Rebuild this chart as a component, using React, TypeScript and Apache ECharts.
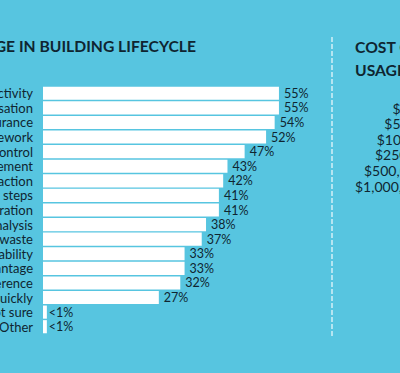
import React, { useEffect, useRef } from "react";
import * as echarts from "echarts";

const categories = [
  "Improved productivity",
  "Better visualisation",
  "Quality assurance",
  "Reduced rework",
  "Cost control",
  "Better data management",
  "Client satisfaction",
  "Fewer process steps",
  "Better collaboration",
  "Improved analysis",
  "Reduced waste",
  "Sustainability",
  "Competitive advantage",
  "Clash interference",
  "Deliver projects quickly",
  "Not sure",
  "Other",
];
const values = [55, 55, 54, 52, 47, 43, 42, 41, 41, 38, 37, 33, 33, 32, 27, 0.9, 0.9];
const valueLabels = ["55%", "55%", "54%", "52%", "47%", "43%", "42%", "41%", "41%", "38%", "37%", "33%", "33%", "32%", "27%", "<1%", "<1%"];
const title = "BIM USAGE IN BUILDING LIFECYCLE";
const sideTitle = ["COST OF BIM", "USAGE"];
const costRanges = [
  "$1 \u2013 $50,000",
  "$50,000 \u2013 $100,000",
  "$100,000 \u2013 $250,000",
  "$250,000 \u2013 $500,000",
  "$500,000 \u2013 $1,000,000",
  "$1,000,000+",
];
const costX = [392.5, 384.3, 376.7, 375, 364, 355];

const BG = "#57c5e0";
const INK = "#0f2531";

export default function App() {
  const ref = useRef<HTMLDivElement>(null);
  useEffect(() => {
    if (!ref.current) return;
    const chart = echarts.init(ref.current, null, { renderer: "svg" });
    const graphics: any[] = [
      {
        type: "text",
        x: 196,
        y: 46,
        style: {
          text: title,
          align: "right",
          verticalAlign: "middle",
          fill: INK,
          font: "bold 15.7px Lato",
        },
      },
      {
        type: "line",
        shape: { x1: 332, y1: 37, x2: 332, y2: 336 },
        style: { stroke: "rgba(255,255,255,0.75)", lineWidth: 1.5, lineDash: [5, 2] },
      },
      {
        type: "text",
        x: 355,
        y: 47,
        style: { text: sideTitle[0], verticalAlign: "middle", fill: INK, font: "bold 15.7px Lato" },
      },
      {
        type: "text",
        x: 355,
        y: 70,
        style: { text: sideTitle[1], verticalAlign: "middle", fill: INK, font: "bold 15.7px Lato" },
      },
    ];
    costRanges.forEach((t, i) => {
      graphics.push({
        type: "text",
        x: costX[i],
        y: 108 + i * 15.6,
        style: { text: t, verticalAlign: "middle", fill: INK, font: "14px Lato" },
      });
    });
    chart.setOption({
      animation: false,
      backgroundColor: BG,
      grid: {
        left: 43,
        top: 86,
        height: 248,
        width: 257.4,
        containLabel: false,
        outerBoundsMode: "none",
      },
      xAxis: {
        type: "value",
        min: 0,
        max: 60,
        show: false,
      },
      yAxis: {
        type: "category",
        inverse: true,
        data: categories,
        axisLine: { show: false },
        axisTick: { show: false },
        axisLabel: {
          interval: 0,
          margin: 10,
          color: INK,
          fontFamily: "Lato",
          fontSize: 13,
        },
      },
      series: [
        {
          type: "bar",
          data: values.map((v, i) =>
            valueLabels[i].startsWith("<") ? { value: v, label: { distance: 2 } } : v
          ),
          barCategoryGap: "10%",
          itemStyle: { color: "#ffffff" },
          label: {
            show: true,
            position: "right",
            distance: 5,
            color: INK,
            fontFamily: "Lato",
            fontSize: 12.5,
            formatter: (p: any) => valueLabels[p.dataIndex],
          },
        },
      ],
      graphic: graphics,
    });
    return () => chart.dispose();
  }, []);
  return (
    <div
      ref={ref}
      style={{ width: 400, height: 373, position: "fixed", left: 0, top: 0 }}
    />
  );
}
